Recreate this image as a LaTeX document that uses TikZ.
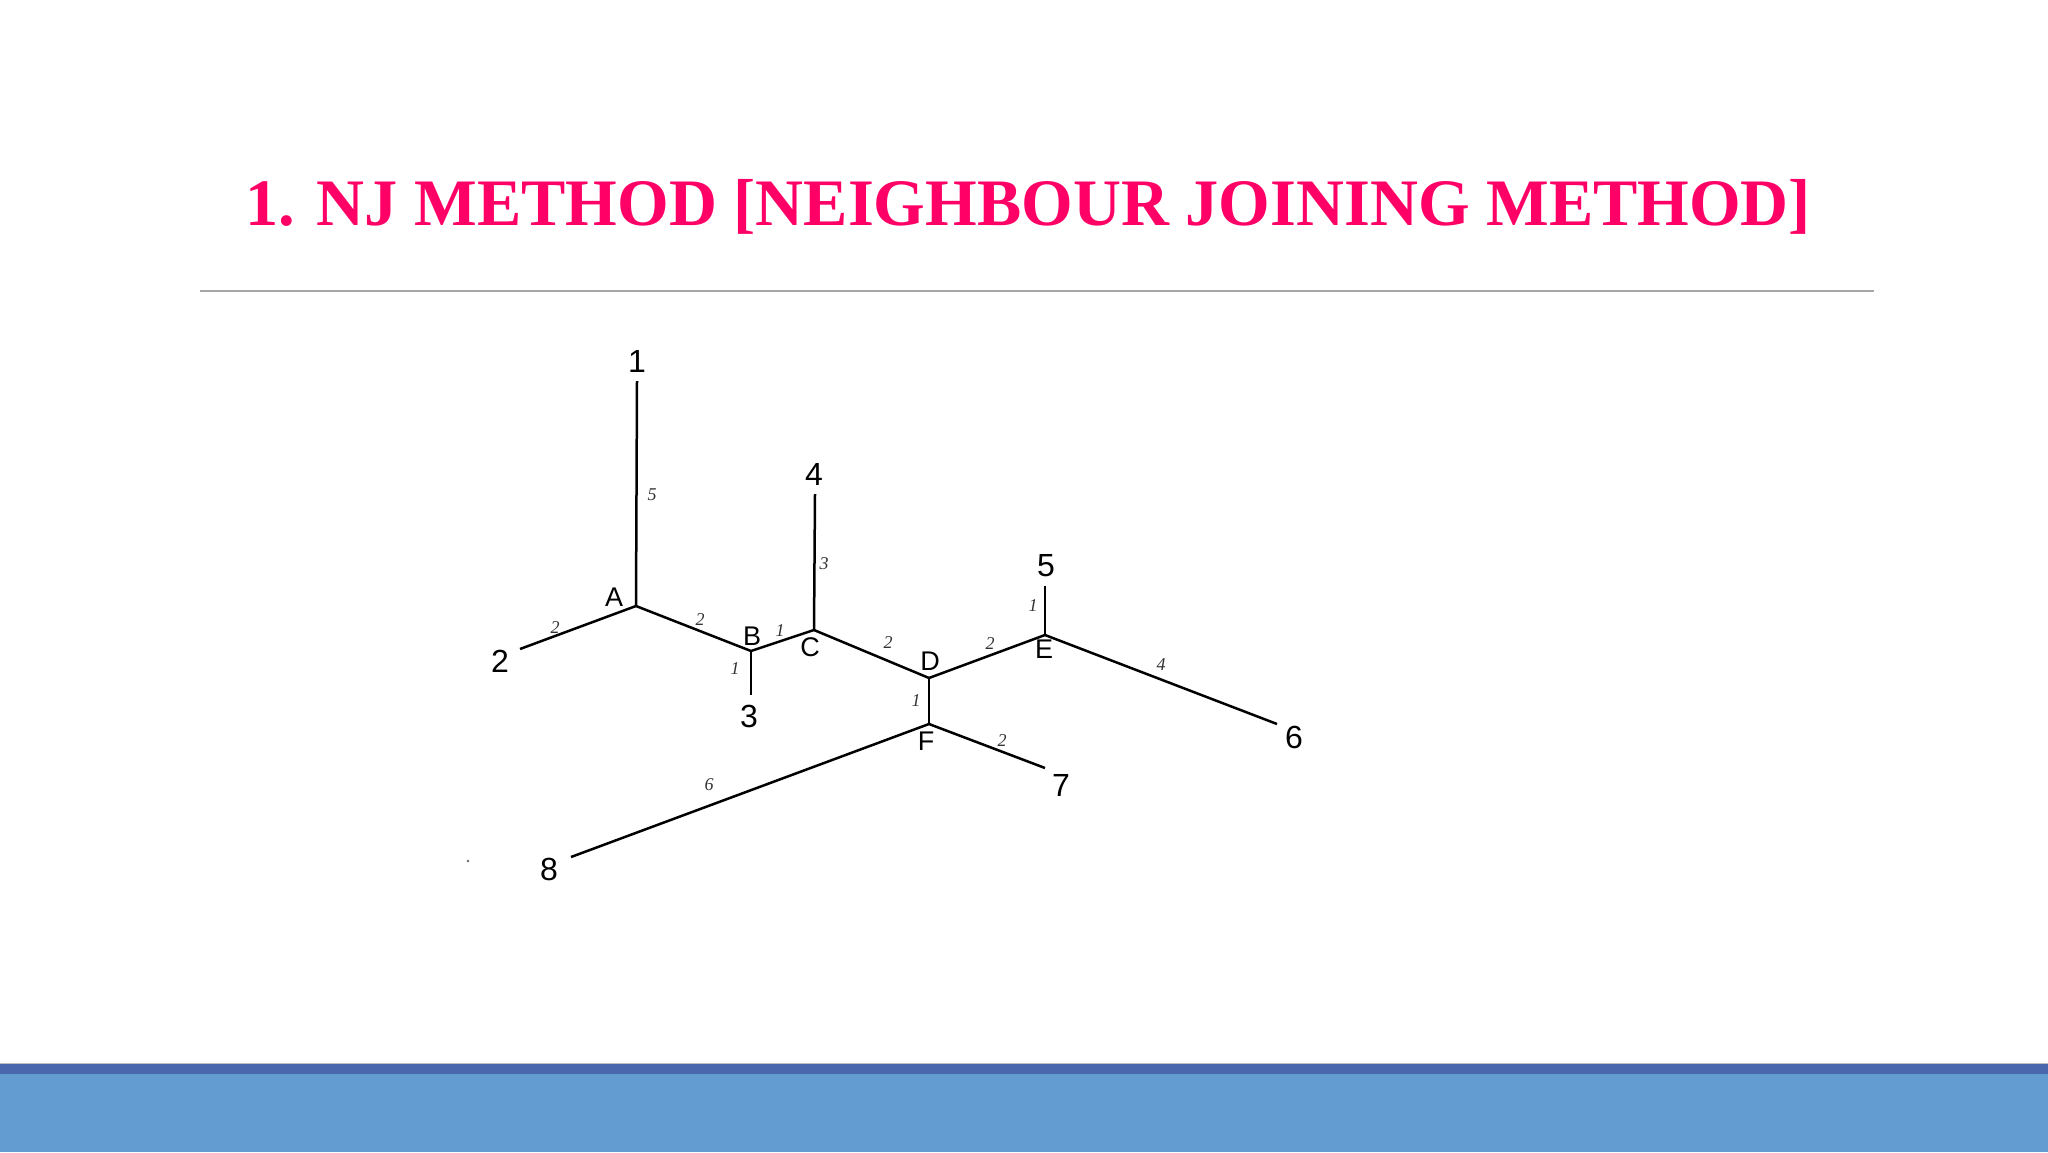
\documentclass[tikz,border=0pt]{standalone}
\usepackage{fontspec}
\setmainfont{Liberation Serif}
\newfontfamily\lsans{Liberation Sans}
\definecolor{titlepink}{RGB}{255,0,102}
\definecolor{banddark}{RGB}{74,102,173}
\definecolor{bandlight}{RGB}{98,156,208}
\begin{document}
\begin{tikzpicture}[x=1pt,y=-1pt,
  tree/.style={line width=2.5pt, black},
  lab/.style={font=\lsans\fontsize{32}{32}\selectfont, inner sep=0pt},
  letlab/.style={font=\lsans\fontsize{27}{27}\selectfont, inner sep=0pt},
  elab/.style={font=\itshape\fontsize{18}{18}\selectfont, text=black!80, inner sep=0pt}]
\useasboundingbox (0,0) rectangle (2048,1152);
\fill[white] (0,0) rectangle (2048,1152);
% title
\node[anchor=base, text=titlepink, font=\bfseries\fontsize{66.4}{80}\selectfont, inner sep=0pt] (title) at (1028,225) {1. NJ METHOD [NEIGHBOUR JOINING METHOD]};
\draw[black!35, line width=1.5pt] (200,291) coordinate (rl) -- (1874,291) coordinate (rr);
% bottom band
\fill[bandlight] (0,1073) rectangle (2048,1152);
\fill[banddark] (0,1063) rectangle (2048,1074);
\draw[black!25, line width=1pt] (0,1063) -- (2048,1063);
% junctions
\coordinate (A) at (636,606);
\coordinate (B) at (751,651);
\coordinate (C) at (814,630);
\coordinate (D) at (929,678);
\coordinate (E) at (1045,635);
\coordinate (F) at (929,724);
% leaf ends
\coordinate (t1) at (637,381);
\coordinate (t2) at (520,649);
\coordinate (t3) at (751,695);
\coordinate (t4) at (815,494);
\coordinate (t5) at (1045,586);
\coordinate (t6) at (1277,724);
\coordinate (t7) at (1045,768);
\coordinate (t8) at (571,857);
% edges
\draw[tree] (t1) -- (A);
\draw[tree] (t2) -- (A);
\draw[tree] (A) -- (B);
\draw[tree] (B) -- (t3);
\draw[tree] (B) -- (C);
\draw[tree] (t4) -- (C);
\draw[tree] (C) -- (D);
\draw[tree] (D) -- (E);
\draw[tree] (t5) -- (E);
\draw[tree] (E) -- (t6);
\draw[tree] (D) -- (F);
\draw[tree] (F) -- (t7);
\draw[tree] (F) -- (t8);
% leaf labels
\node[lab] (L1) at (637,361) {1};
\node[lab] (L2) at (500,661) {2};
\node[lab] (L3) at (749,716) {3};
\node[lab] (L4) at (814,474) {4};
\node[lab] (L5) at (1046,566) {5};
\node[lab] (L6) at (1294,737) {6};
\node[lab] (L7) at (1061,785) {7};
\node[lab] (L8) at (549,869) {8};
% junction labels
\node[letlab] (LA) at (614,597) {A};
\node[letlab] (LB) at (752,636) {B};
\node[letlab] (LC) at (810,647) {C};
\node[letlab] (LD) at (930,661) {D};
\node[letlab] (LE) at (1044,649) {E};
\node[letlab] (LF) at (926,741) {F};
% edge lengths
\node[elab] (e1) at (652,495) {5};
\node[elab] (e2) at (555,628) {2};
\node[elab] (eAB) at (700,620) {2};
\node[elab] (eB3) at (735,669) {1};
\node[elab] (eBC) at (780,631) {1};
\node[elab] (eC4) at (824,564) {3};
\node[elab] (eCD) at (888,643) {2};
\node[elab] (eDE) at (990,644) {2};
\node[elab] (eE5) at (1033,606) {1};
\node[elab] (eE6) at (1161,665) {4};
\node[elab] (eDF) at (916,701) {1};
\node[elab] (eF7) at (1002,741) {2};
\node[elab] (eF8) at (709,785) {6};
\fill[black!60] (468,861) circle (1.3);
\end{tikzpicture}
\end{document}
